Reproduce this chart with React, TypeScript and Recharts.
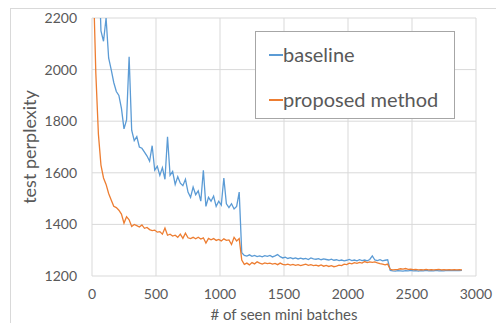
import { LineChart, Line, XAxis, YAxis, CartesianGrid, Legend } from "recharts";

const batches = [
  10, 30, 50, 70, 90, 110, 130, 150, 170, 190,
  210, 230, 250, 270, 290, 310, 330, 350, 370, 390,
  410, 430, 450, 470, 490, 510, 530, 550, 570, 590,
  610, 630, 650, 670, 690, 710, 730, 750, 770, 790,
  810, 830, 850, 870, 890, 910, 930, 950, 970, 990,
  1010, 1030, 1050, 1070, 1090, 1110, 1130, 1150, 1170, 1190,
  1210, 1230, 1250, 1270, 1290, 1310, 1330, 1350, 1370, 1390,
  1410, 1430, 1450, 1470, 1490, 1510, 1530, 1550, 1570, 1590,
  1610, 1630, 1650, 1670, 1690, 1710, 1730, 1750, 1770, 1790,
  1810, 1830, 1850, 1870, 1890, 1910, 1930, 1950, 1970, 1990,
  2010, 2030, 2050, 2070, 2090, 2110, 2130, 2150, 2170, 2190,
  2210, 2230, 2250, 2270, 2290, 2310, 2330, 2350, 2370, 2390,
  2410, 2430, 2450, 2470, 2490, 2510, 2530, 2550, 2570, 2590,
  2610, 2630, 2650, 2670, 2690, 2710, 2730, 2750, 2770, 2790,
  2810, 2830, 2850, 2870, 2890,
];

const baseline = [
  3300, 2800, 2450, 2150, 2110, 2200, 2045, 2000, 1950, 1915,
  1900, 1850, 1770, 1805, 2050, 1765, 1725, 1740, 1700, 1695,
  1680, 1665, 1645, 1705, 1610, 1625, 1590, 1620, 1575, 1740,
  1590, 1605, 1555, 1585, 1560, 1550, 1575, 1525, 1505, 1545,
  1515, 1530, 1490, 1610, 1470, 1505, 1490, 1510, 1470, 1490,
  1475, 1580, 1480, 1465, 1480, 1460, 1470, 1525, 1290, 1280,
  1277, 1282, 1276, 1280, 1275, 1278, 1274, 1279, 1276, 1280,
  1274, 1278, 1283, 1275, 1270, 1273, 1268, 1271, 1267, 1270,
  1266, 1269, 1266, 1268, 1264, 1270, 1266, 1265, 1267, 1263,
  1266, 1264, 1262, 1265, 1261, 1263, 1260, 1262, 1259, 1261,
  1264, 1260, 1262, 1259, 1263, 1260, 1262, 1259, 1264, 1278,
  1262, 1260, 1263, 1259, 1261, 1263, 1222, 1220, 1219, 1221,
  1220, 1219, 1221, 1220, 1222, 1220, 1221, 1219, 1221, 1220,
  1222, 1220, 1221, 1220, 1222, 1220, 1221, 1220, 1222, 1221,
  1222, 1221, 1222, 1221, 1222,
];

const proposed = [
  2350, 1985, 1750, 1630, 1580, 1555, 1520, 1495, 1470, 1465,
  1455, 1440, 1405, 1430, 1418, 1392, 1400, 1395, 1390, 1398,
  1385, 1388, 1380, 1376, 1378, 1370, 1372, 1362, 1386, 1358,
  1362, 1355, 1358, 1350, 1362, 1346, 1366, 1348, 1345, 1350,
  1344, 1350, 1343, 1348, 1328, 1346, 1340, 1345, 1338, 1342,
  1336, 1344, 1338, 1340, 1322, 1350, 1336, 1345, 1262, 1245,
  1250, 1243, 1252, 1247, 1255, 1250, 1246, 1251, 1248, 1250,
  1246, 1249, 1244, 1250, 1245, 1243, 1246, 1242, 1245, 1241,
  1244, 1240, 1243, 1246, 1241, 1244, 1240, 1242, 1239, 1243,
  1238, 1241, 1237, 1240, 1236, 1238, 1242, 1240, 1246, 1244,
  1250, 1247, 1252, 1249, 1253, 1250, 1256, 1252, 1255, 1253,
  1255, 1251, 1248, 1246, 1243, 1246, 1226, 1224, 1225, 1226,
  1228, 1227, 1229, 1226, 1227, 1225, 1226, 1224, 1225, 1224,
  1226, 1224, 1225, 1224, 1225, 1226, 1224, 1225, 1224, 1225,
  1224, 1225, 1224, 1225, 1224,
];

const xTicks = [0, 500, 1000, 1500, 2000, 2500, 3000];
const yTicks = [1200, 1400, 1600, 1800, 2000, 2200];

const data = batches.map((b, i) => ({
  batch: b,
  baseline: baseline[i],
  proposed: proposed[i],
}));

const FONT = "Lato, 'Open Sans', sans-serif";
const TEXT = "#595959";

function LegendBox({ payload }: any) {
  return (
    <div
      style={{
        position: "relative",
        width: 200,
        height: 88,
        boxSizing: "border-box",
        border: "1px solid #a6a6a6",
        background: "#fff",
        fontFamily: FONT,
        fontSize: 20,
        color: TEXT,
      }}
    >
      {(payload || []).map((p: any, i: number) => (
        <div
          key={p.value}
          style={{
            position: "absolute",
            left: 13,
            top: 10 + i * 45,
            height: 24,
            lineHeight: "24px",
            display: "flex",
            alignItems: "center",
            whiteSpace: "nowrap",
          }}
        >
          <span style={{ display: "inline-block", width: 14, height: 1.5, background: p.color, marginTop: 2 }} />
          <span>{p.value}</span>
        </div>
      ))}
    </div>
  );
}

export default function App() {
  return (
    <div style={{ position: "absolute", left: 0, top: 0, width: 496, height: 323, background: "#fff", overflow: "hidden" }}>
      <div
        style={{
          position: "absolute",
          left: 10,
          top: 8,
          width: 520,
          height: 340,
          border: "1px solid #d9d9d9",
        }}
      />
      <LineChart width={496} height={323} data={data} margin={{ top: 18, right: 20, left: 0, bottom: 0 }}>
        <CartesianGrid stroke="#d9d9d9" strokeWidth={1} />
        <XAxis
          dataKey="batch"
          type="number"
          domain={[0, 3000]}
          ticks={xTicks}
          axisLine={false}
          tickLine={false}
          tickSize={0}
          tickMargin={13}
          height={47}
          tick={{ fontSize: 14, fill: TEXT, fontFamily: FONT }}
          label={{
            value: "# of seen mini batches",
            position: "insideBottom",
            offset: 3,
            style: { fontSize: 15, fill: TEXT, fontFamily: FONT },
          }}
        />
        <YAxis
          type="number"
          domain={[1200, 2200]}
          ticks={yTicks}
          allowDataOverflow
          axisLine={false}
          tickLine={false}
          tickSize={0}
          tickMargin={15}
          width={92}
          tick={{ fontSize: 14, fill: TEXT, fontFamily: FONT }}
          label={{
            value: "test perplexity",
            angle: -90,
            position: "insideLeft",
            offset: 30,
            style: { fontSize: 18, fill: TEXT, fontFamily: FONT, textAnchor: "middle" },
          }}
        />
        <Legend
          layout="vertical"
          align="center"
          verticalAlign="middle"
          content={LegendBox}
          wrapperStyle={{ left: 255, top: 31, width: 200, height: 88 }}
        />
        <Line
          dataKey="baseline"
          name="baseline"
          stroke="#5b9bd5"
          strokeWidth={1.3}
          dot={false}
          isAnimationActive={false}
        />
        <Line
          dataKey="proposed"
          name="proposed method"
          stroke="#ed7d31"
          strokeWidth={1.3}
          dot={false}
          isAnimationActive={false}
        />
      </LineChart>
    </div>
  );
}
